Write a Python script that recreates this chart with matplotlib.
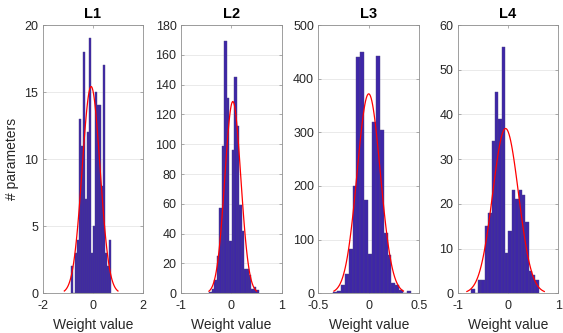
import numpy as np
import matplotlib.pyplot as plt


plt.rcParams['font.family'] = ['Liberation Sans', 'DejaVu Sans']
plt.rcParams['axes.unicode_minus'] = False

layers = ['L1', 'L2', 'L3', 'L4']

# 每层权重直方图的计数（等宽分箱）
counts_l1 = [2, 0, 3, 4, 13, 11, 18, 7, 12, 19, 3, 5, 15, 14, 14, 8, 17, 3, 2, 4]
counts_l2 = [1, 3, 9, 25, 57, 99, 169, 131, 35, 96, 145, 112, 59, 42, 16, 16, 12, 3, 4, 2]
counts_l3 = [2, 5, 15, 36, 82, 200, 440, 450, 174, 73, 319, 442, 304, 113, 71, 20, 16, 6, 1, 4]
counts_l4 = [1, 0, 3, 3, 15, 18, 34, 45, 39, 55, 9, 14, 23, 21, 23, 22, 16, 5, 4, 3]

# 分箱覆盖的权重范围
bin_lo = [-0.877, -0.432, -0.354, -0.73]
bin_hi = [0.70, 0.552, 0.419, 0.61]

# 正态拟合参数
fit_mu = [-0.07, 0.034, 0.0, -0.05]
fit_sigma = [0.355, 0.158, 0.115, 0.256]

x_lims = [(-2, 2), (-1, 1), (-0.5, 0.5), (-1, 1)]
x_ticks = [[-2, 0, 2], [-1, 0, 1], [-0.5, 0, 0.5], [-1, 0, 1]]
x_tick_labels = [['-2', '0', '2'], ['-1', '0', '1'], ['-0.5', '0', '0.5'], ['-1', '0', '1']]
y_tops = [20, 180, 500, 60]
y_steps = [5, 20, 100, 10]

BAR_COLOR = '#3e26a8'
TEXT_COLOR = '#262626'
AXIS_COLOR = '#8f8f8f'


def histfit(ax, counts, lo, hi, mu, sigma):
    """画直方图并叠加正态拟合曲线（曲线范围 mu±3sigma，按 n*binwidth 缩放）"""
    counts = np.asarray(counts, dtype=float)
    edges = np.linspace(lo, hi, len(counts) + 1)
    bw = edges[1] - edges[0]
    ax.bar(edges[:-1], counts, width=bw, align='edge', color=BAR_COLOR,
           edgecolor='#4b4284', linewidth=0.3, zorder=2)

    x = np.linspace(mu - 3 * sigma, mu + 3 * sigma, 100)
    pdf = np.exp(-0.5 * ((x - mu) / sigma) ** 2) / (sigma * np.sqrt(2 * np.pi))
    ax.plot(x, counts.sum() * bw * pdf, color='red', linewidth=0.9, zorder=3)


def style_axes(ax, i):
    ax.set_xlim(*x_lims[i])
    ax.set_xticks(x_ticks[i])
    ax.set_xticklabels(x_tick_labels[i])
    ax.set_ylim(0, y_tops[i])
    ax.set_yticks(np.arange(0, y_tops[i] + 1, y_steps[i]))
    ax.yaxis.grid(True, color='#e6e6e6', linewidth=0.6, zorder=0)
    ax.set_axisbelow(True)
    for s in ax.spines.values():
        s.set_color(AXIS_COLOR)
        s.set_linewidth(0.6)
    ax.tick_params(direction='in', length=2.5, width=0.5, color=AXIS_COLOR,
                   labelcolor=TEXT_COLOR, labelsize=9, top=True, right=True)
    ax.tick_params(axis='x', pad=5)
    ax.tick_params(axis='y', pad=3)
    ax.set_title(layers[i], fontsize=10.5, fontweight='bold', color='black', pad=5)
    ax.set_xlabel('Weight value', fontsize=10, color=TEXT_COLOR, labelpad=4)


if __name__ == '__main__':
    fig = plt.figure(figsize=(5.63, 3.33), dpi=100)
    all_counts = [counts_l1, counts_l2, counts_l3, counts_l4]
    lefts = [0.0755, 0.321, 0.5654, 0.813]

    for i in range(4):
        ax = fig.add_axes([lefts[i], 0.1192, 0.1790, 0.8057])
        histfit(ax, all_counts[i], bin_lo[i], bin_hi[i], fit_mu[i], fit_sigma[i])
        style_axes(ax, i)
        if i == 0:
            ax.set_ylabel('# parameters', fontsize=10, color=TEXT_COLOR, labelpad=4)

    fig.savefig('out.png', dpi=100)
